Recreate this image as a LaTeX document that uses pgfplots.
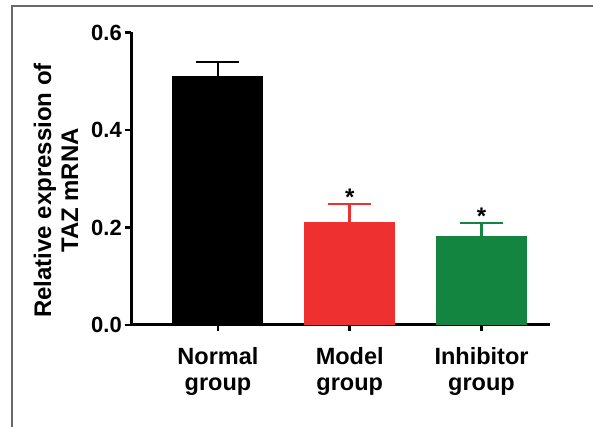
\documentclass[border=0pt]{standalone}
\usepackage{fontspec}
\setmainfont{Liberation Sans}
\usepackage{pgfplots}
\pgfplotsset{compat=1.18}
\definecolor{modelred}{RGB}{238,48,48}
\definecolor{inhgreen}{RGB}{19,133,64}
\definecolor{framegray}{RGB}{105,105,105}

\begin{document}
\begin{tikzpicture}
\useasboundingbox (0,0) rectangle (593pt,427pt);
\draw[framegray, line width=1.5pt] (12pt,-2pt) -- (12pt,421pt) -- (596pt,421pt);
\begin{axis}[
  at={(131pt,102pt)}, anchor=south west,
  scale only axis, width=419pt, height=292.5pt,
  xmin=-0.66, xmax=2.52, ymin=0, ymax=0.6,
  axis x line*=bottom, axis y line*=left,
  axis line style={line width=3pt, black},
  tick align=outside, major tick length=6pt,
  tick style={line width=2.5pt, black},
  xtick={0,1,2},
  xticklabels={Normal\\group, Model\\group, Inhibitor\\group},
  xticklabel style={align=center, yshift=-13pt, font=\fontsize{23.5}{26}\selectfont\bfseries},
  ytick={0,0.2,0.4,0.6},
  yticklabel={\pgfmathprintnumber[fixed,fixed zerofill,precision=1,assume math mode=true]{\tick}},
  yticklabel style={font=\fontsize{22}{22}\selectfont\bfseries, inner sep=3pt},
  ylabel={Relative expression of\\TAZ mRNA},
  ylabel style={align=center, font=\fontsize{24}{27}\selectfont\bfseries,
    at={(axis description cs:-0.179,0.46)}, anchor=center},
  clip=false,
]
% Normal group
\addplot[ybar, bar width=91pt, bar shift=0pt, fill=black, draw=none,
  error bars/.cd, y dir=plus, y explicit,
  error bar style={line width=2.5pt, black},
  error mark options={rotate=90, line width=2.5pt, mark size=21.5pt, black}]
  coordinates {(0,0.511) +- (0,0.028)};
% Model group
\addplot[ybar, bar width=91pt, bar shift=0pt, fill=modelred, draw=none,
  error bars/.cd, y dir=plus, y explicit,
  error bar style={line width=2.5pt, modelred},
  error mark options={rotate=90, line width=2.5pt, mark size=21.5pt, modelred}]
  coordinates {(1,0.212) +- (0,0.036)};
% Inhibitor group
\addplot[ybar, bar width=91pt, bar shift=0pt, fill=inhgreen, draw=none,
  error bars/.cd, y dir=plus, y explicit,
  error bar style={line width=2.5pt, inhgreen},
  error mark options={rotate=90, line width=2.5pt, mark size=21.5pt, inhgreen}]
  coordinates {(2,0.183) +- (0,0.026)};
% significance marks
\addplot[draw=none, mark=none, nodes near coords={*},
  nodes near coords style={anchor=south, inner sep=0pt, yshift=-2pt,
    font=\fontsize{24}{24}\selectfont\bfseries}]
  coordinates {(1,0.248) (2,0.209)};
\end{axis}
\end{tikzpicture}
\end{document}
